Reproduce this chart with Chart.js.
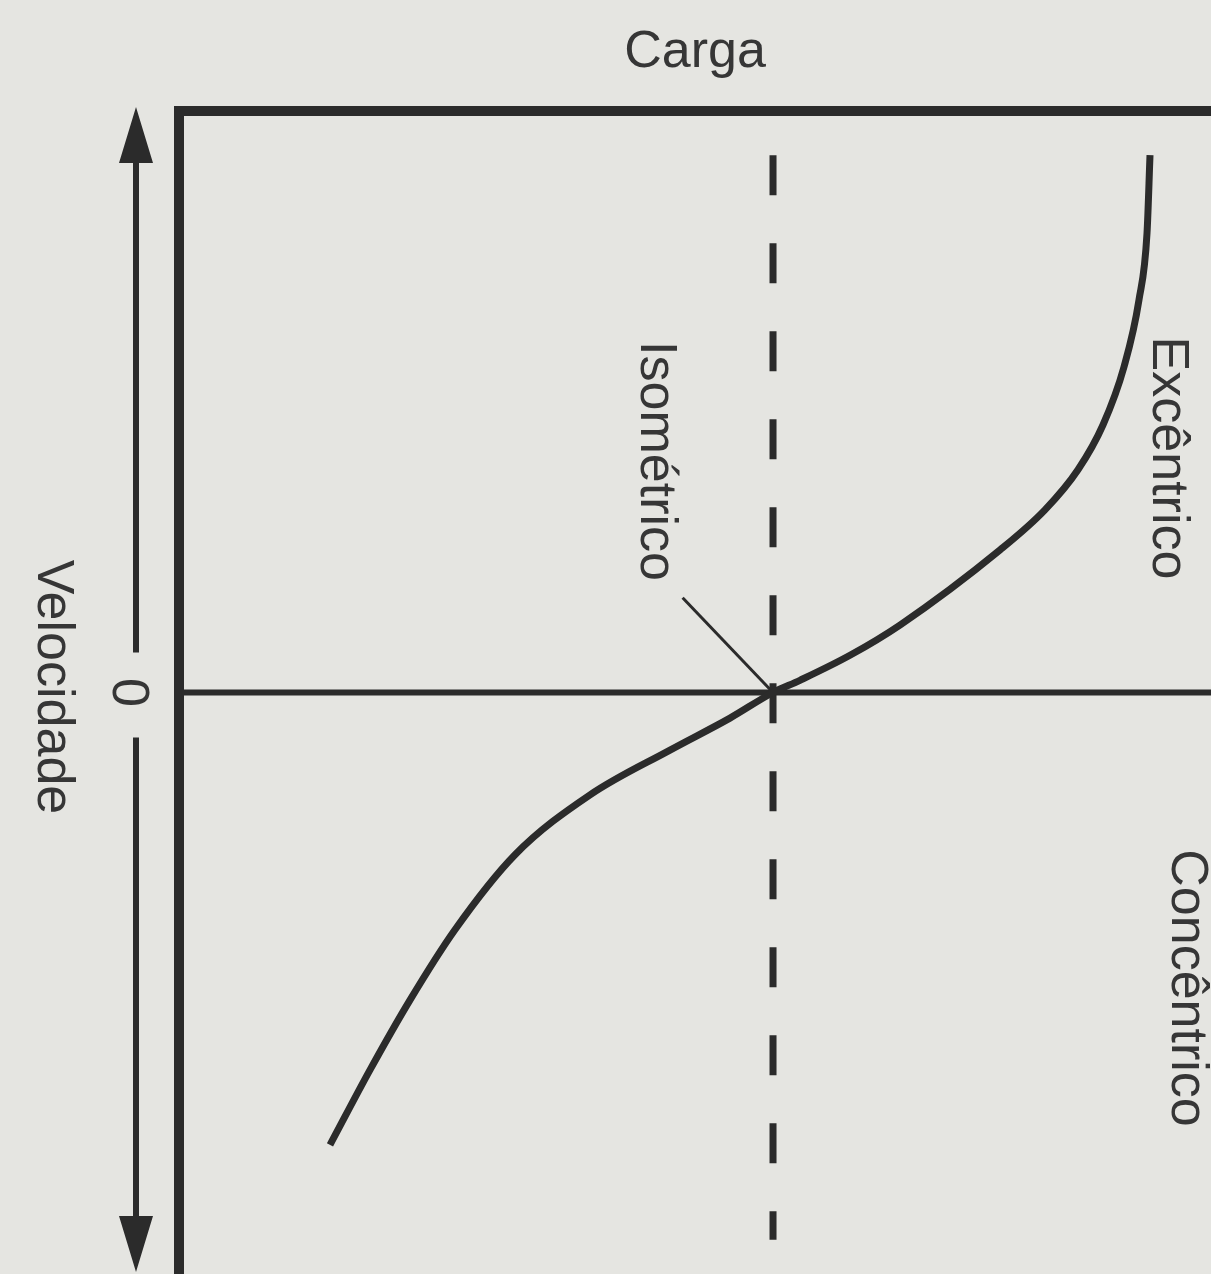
<!DOCTYPE html>
<html>
<head>
<meta charset="utf-8">
<title>Carga x Velocidade</title>
<script src="https://cdn.jsdelivr.net/npm/chart.js@4.4.1/dist/chart.umd.min.js"></script>
<style>
    html, body { margin: 0; padding: 0; background: #e5e5e1; }
    #wrap { width: 1211px; height: 1274px; }
</style>
</head>
<body>
<div id="wrap"><canvas id="forceVelocityChart" width="1211" height="1274"></canvas></div>
<script>
// Force-velocity curve (load on x, velocity on y, 0 = isometric)
const cargaValues = [14.63, 18.51, 22.38, 26.74, 32.56, 39.83, 47.58, 53.39, 57.56,
    60.17, 65.02, 69.86, 79.55, 83.91, 87.11, 89.53, 91.57, 93.02, 93.80, 94.09];
const velocidadeValues = [-77.8, -64.9, -52.9, -40.8, -27.9, -17.6, -9.9, -4.4, 0,
    2.1, 6.4, 11.6, 24.5, 31.4, 38.3, 46.0, 56.0, 67.5, 79.0, 92.4];

// Isometric load marker (dashed vertical line)
const isometricLoad = [57.56, 57.56];
const isometricVelocity = [92.4, -94.1];

// Zero-velocity line
const zeroLineLoad = [0, 100];
const zeroLineVelocity = [0, 0];

// Leader line from the "Isométrico" label to the crossing point
const leaderLoad = [48.8, 57.56];
const leaderVelocity = [16.3, 0];

// Axis ranges
const loadRange = [0, 100];
const velocityRange = [-100, 100];

// Texts
const topTitle = 'Carga';
const sideTitle = 'Velocidade';
const zeroTick = '0';
const isoLabel = 'Isométrico';
const eccLabel = 'Excêntrico';
const concLabel = 'Concêntrico';

const INK = '#2b2b2b';
const TEXT_INK = '#363636';
const FONT = '52px "Liberation Sans", Arial, sans-serif';

function toPoints(xs, ys) {
    return xs.map((x, i) => ({ x: x, y: ys[i] }));
}

// Draws rotated text (tops facing right, reading top to bottom)
function rotatedText(ctx, text, baselineX, centerY) {
    ctx.save();
    ctx.translate(baselineX, centerY);
    ctx.rotate(Math.PI / 2);
    ctx.textAlign = 'center';
    ctx.textBaseline = 'alphabetic';
    ctx.fillText(text, 0, 0);
    ctx.restore();
}

const backgroundPlugin = {
    id: 'paperBackground',
    beforeDraw: function (chart) {
        const ctx = chart.ctx;
        ctx.save();
        ctx.fillStyle = '#e5e5e1';
        ctx.fillRect(0, 0, chart.width, chart.height);
        ctx.restore();
    }
};

const framePlugin = {
    id: 'diagramFrame',
    afterDraw: function (chart) {
        const ctx = chart.ctx;
        const area = chart.chartArea;
        const yScale = chart.scales.y;
        const zeroY = yScale.getPixelForValue(0);

        ctx.save();
        ctx.strokeStyle = INK;
        ctx.fillStyle = INK;

        // Frame: top and left borders
        ctx.lineWidth = 10;
        ctx.lineCap = 'butt';
        ctx.beginPath();
        ctx.moveTo(area.left - 5, area.top);
        ctx.lineTo(area.right, area.top);
        ctx.moveTo(area.left, area.top - 5);
        ctx.lineTo(area.left, area.bottom);
        ctx.stroke();

        // Double arrow for velocity
        const arrowX = 136;
        const tipTop = yScale.getPixelForValue(velocityRange[1]) - 4;
        const tipBottom = yScale.getPixelForValue(velocityRange[0]) - 2;
        const headLen = 56;
        const headHalf = 17;
        ctx.lineWidth = 6;
        ctx.beginPath();
        ctx.moveTo(arrowX, tipTop + headLen - 2);
        ctx.lineTo(arrowX, zeroY - 40);
        ctx.moveTo(arrowX, zeroY + 45);
        ctx.lineTo(arrowX, tipBottom - headLen + 2);
        ctx.stroke();
        ctx.beginPath();
        ctx.moveTo(arrowX, tipTop);
        ctx.lineTo(arrowX - headHalf, tipTop + headLen);
        ctx.lineTo(arrowX + headHalf, tipTop + headLen);
        ctx.closePath();
        ctx.moveTo(arrowX, tipBottom);
        ctx.lineTo(arrowX - headHalf, tipBottom - headLen);
        ctx.lineTo(arrowX + headHalf, tipBottom - headLen);
        ctx.closePath();
        ctx.fill();

        // Texts
        ctx.fillStyle = TEXT_INK;
        ctx.font = FONT;
        ctx.textAlign = 'center';
        ctx.textBaseline = 'alphabetic';
        ctx.fillText(topTitle, 695, 67);

        rotatedText(ctx, sideTitle, 38, 687);
        rotatedText(ctx, zeroTick, 113, zeroY);
        rotatedText(ctx, isoLabel, 641, 461);
        rotatedText(ctx, eccLabel, 1153, 458);
        rotatedText(ctx, concLabel, 1172, 988);

        ctx.restore();
    }
};

const chart = new Chart(document.getElementById('forceVelocityChart').getContext('2d'), {
    type: 'scatter',
    data: {
        datasets: [
            {
                label: 'Curva',
                data: toPoints(cargaValues, velocidadeValues),
                showLine: true,
                borderColor: INK,
                borderWidth: 7,
                cubicInterpolationMode: 'monotone',
                pointRadius: 0
            },
            {
                label: 'Zero',
                data: toPoints(zeroLineLoad, zeroLineVelocity),
                showLine: true,
                borderColor: INK,
                borderWidth: 6,
                pointRadius: 0
            },
            {
                label: 'Isométrico',
                data: toPoints(isometricLoad, isometricVelocity),
                showLine: true,
                borderColor: INK,
                borderWidth: 7,
                borderDash: [40, 48],
                pointRadius: 0
            },
            {
                label: 'Indicador',
                data: toPoints(leaderLoad, leaderVelocity),
                showLine: true,
                borderColor: INK,
                borderWidth: 3,
                pointRadius: 0
            }
        ]
    },
    options: {
        responsive: false,
        animation: false,
        layout: {
            padding: { left: 179, top: 111, right: 0, bottom: 0 }
        },
        plugins: {
            legend: { display: false },
            tooltip: { enabled: false },
            title: { display: false }
        },
        scales: {
            x: { type: 'linear', min: loadRange[0], max: loadRange[1], display: false },
            y: { type: 'linear', min: velocityRange[0], max: velocityRange[1], display: false }
        }
    },
    plugins: [backgroundPlugin, framePlugin]
});
</script>
</body>
</html>
